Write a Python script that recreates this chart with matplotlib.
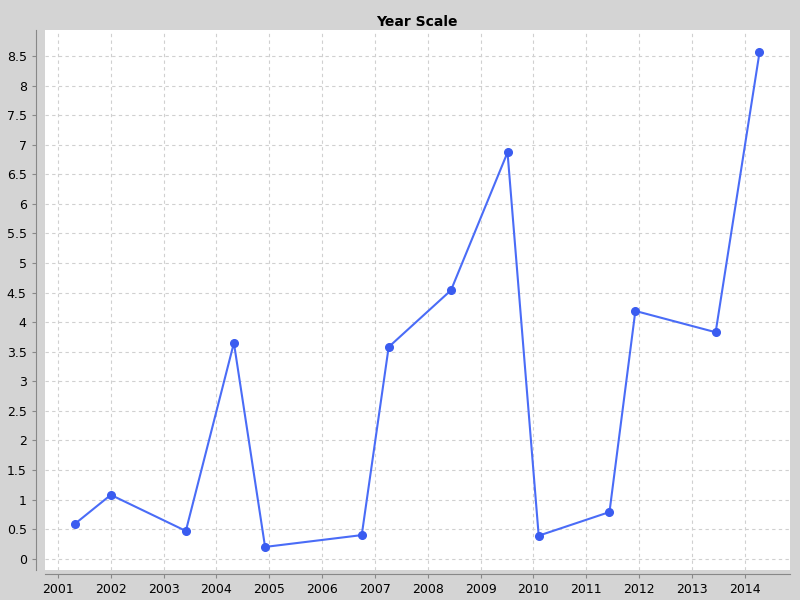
import matplotlib
matplotlib.use("Agg")
import matplotlib.pyplot as plt

# values
years = [2001.32, 2002.0, 2003.42, 2004.33, 2004.92, 2006.75, 2007.26,
         2008.44, 2009.51, 2010.10, 2011.44, 2011.93, 2013.45, 2014.28]
values = [0.59, 1.08, 0.47, 3.65, 0.20, 0.40, 3.58,
          4.54, 6.87, 0.39, 0.79, 4.19, 3.83, 8.56]
xticks = list(range(2001, 2015))
yticks = [i * 0.5 for i in range(18)]

fig = plt.figure(figsize=(8, 6), dpi=100, facecolor="#d4d4d4")
ax = fig.add_axes([0.056, 0.05, 0.931, 0.9])
ax.set_facecolor("white")

ax.plot(years, values, color="#4a6cf7", linewidth=1.5, marker="o",
        markersize=5.5, markerfacecolor="#3a5cf0", markeredgecolor="#3a5cf0")

ax.set_xlim(2000.75, 2014.85)
ax.set_ylim(-0.19, 8.94)
ax.set_xticks(xticks)
ax.set_xticklabels([str(y) for y in xticks], fontweight="bold", color="black")
ax.set_yticks(yticks)
ax.set_yticklabels([f"{v:g}" for v in yticks], fontweight="bold", color="black")
ax.tick_params(labelsize=9, color="#888888", length=3)

ax.grid(True, color="#d0d0d0", linestyle=(0, (3, 3)), linewidth=0.8)
ax.spines["top"].set_visible(False)
ax.spines["right"].set_visible(False)
ax.spines["left"].set_position(("outward", 6.5))
ax.spines["bottom"].set_position(("outward", 3))
ax.spines["left"].set_color("#888888")
ax.spines["bottom"].set_color("#888888")

ax.set_title("Year Scale", fontsize=10, fontweight="bold", pad=3)

fig.savefig("out.png", dpi=100, facecolor=fig.get_facecolor())
